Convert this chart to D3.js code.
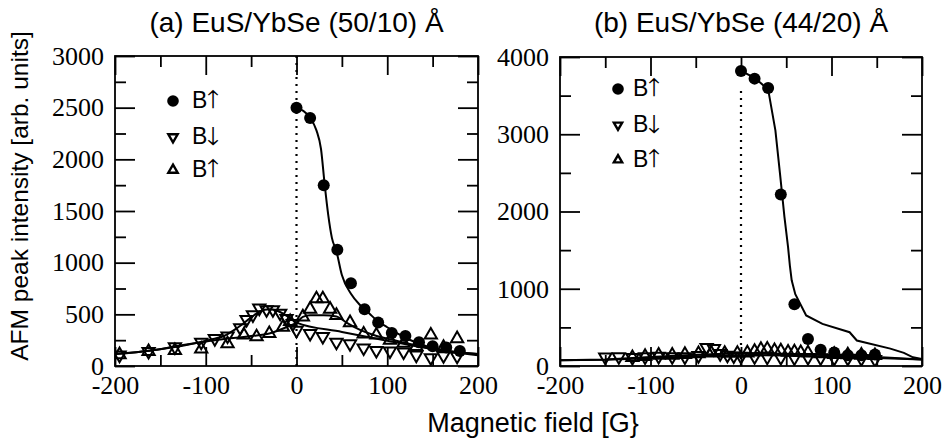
<!DOCTYPE html>
<html>
<head>
<meta charset="utf-8">
<script src="https://cdn.jsdelivr.net/npm/d3@7"></script>
<style>
  body { margin: 0; background: #fff; }
  svg { display: block; }
</style>
</head>
<body>
<svg id="chart" width="949" height="441"></svg>
<script>
// ---- panel (a) EuS/YbSe (50/10) ----
const aRiseX = [0, 15, 30, 45, 60, 75, 90, 105, 120, 135, 150, 165, 180];
const aRiseY = [2500, 2400, 1750, 1125, 800, 550, 420, 320, 290, 230, 190, 180, 145];
const aRiseFitX = [0, 15, 22, 27, 31, 35, 39, 44, 50, 60, 70, 80, 90, 100, 110, 120, 135, 150, 170, 200];
const aRiseFitY = [2500, 2400, 2280, 2100, 1760, 1460, 1240, 1110, 880, 700, 590, 510, 430, 375, 320, 275, 215, 175, 140, 105];

const aDownX = [-195, -163, -134, -105, -90, -76, -62, -55, -48, -41, -33, -26, -18, -11, -4, 0, 15, 29, 44, 59, 74, 88, 103, 118, 132, 148, 162, 177];
const aDownY = [105, 140, 185, 230, 265, 290, 370, 450, 495, 560, 545, 545, 510, 460, 410, 345, 315, 285, 230, 215, 175, 150, 145, 135, 105, 80, 100, 95];
const aDownFitX = [-200, -160, -120, -95, -80, -65, -50, -40, -30, -20, -10, 0, 50, 100, 150, 200];
const aDownFitY = [115, 150, 205, 255, 290, 370, 470, 530, 550, 530, 480, 420, 330, 245, 165, 115];

const aUpX = [-195, -163, -134, -105, -76, -58, -44, -30, -15, -7, 7, 15, 22, 29, 37, 44, 59, 74, 88, 103, 118, 132, 148, 162, 177];
const aUpY = [110, 140, 150, 165, 215, 300, 283, 315, 375, 430, 475, 550, 650, 650, 550, 490, 420, 310, 300, 250, 220, 190, 300, 180, 265];
const aUpFitX = [-200, -160, -130, -90, -50, -30, -10, 0, 7, 15, 30, 44, 55, 70, 85, 110, 132, 160, 200];
const aUpFitY = [115, 150, 195, 250, 290, 315, 380, 420, 475, 490, 490, 480, 420, 350, 300, 245, 200, 150, 115];

// ---- panel (b) EuS/YbSe (44/20) ----
const bRiseX = [0, 15, 30, 44, 59, 74, 88, 103, 118, 133, 148];
const bRiseY = [3820, 3720, 3600, 2220, 800, 350, 210, 175, 140, 140, 150];
const bRiseFitX = [0, 15, 30, 38, 43, 48, 52, 54, 56, 60, 72, 90, 120, 128, 165, 180, 190, 200];
const bRiseFitY = [3820, 3730, 3580, 3050, 2500, 1930, 1540, 1300, 1110, 930, 655, 545, 437, 330, 225, 170, 112, 90];

const bDownX = [-150, -135, -120, -106, -91, -76, -62, -47, -38, -30, -23, -15, -8, 0, 15, 29, 44, 59, 74, 88, 103, 118, 133, 148];
const bDownY = [115, 120, 110, 118, 125, 120, 118, 135, 240, 225, 160, 140, 130, 125, 120, 115, 110, 105, 110, 105, 100, 100, 95, 85];
const bDownFitX = [-200, -150, -100, -50, 0, 50, 100, 150, 200];
const bDownFitY = [75, 80, 100, 125, 140, 135, 120, 105, 85];

const bUpX = [-120, -106, -91, -76, -62, -47, -33, -18, -4, 7, 15, 22, 29, 37, 44, 52, 59, 66, 74, 88, 103, 118, 133, 148];
const bUpY = [110, 125, 140, 140, 150, 160, 170, 165, 165, 170, 190, 215, 220, 200, 195, 180, 185, 175, 170, 160, 150, 145, 140, 135];
const bUpFitX = [-200, -150, -100, -50, 0, 50, 100, 150, 200];
const bUpFitY = [75, 85, 115, 145, 165, 160, 140, 115, 85];

// axis ticks
const fieldTicks = [-200, -100, 0, 100, 200];
const fieldMinor = [-150, -50, 50, 150];
const aYTicks = [0, 500, 1000, 1500, 2000, 2500, 3000];
const aYMinor = [250, 750, 1250, 1750, 2250, 2750];
const bYTicks = [0, 1000, 2000, 3000, 4000];
const bYMinor = [500, 1500, 2500, 3500];

const legendArrows = ['\u2191', '\u2193', '\u2191'];

const zip = (xs, ys) => xs.map((x, i) => [x, ys[i]]);

const svg = d3.select('#chart');
const sansFont = 'Liberation Sans';
const serifFont = 'Liberation Serif';
const tickFmt = d => String(d); // plain hyphen for negatives, like the original

function drawPanel(p) {
  const x = d3.scaleLinear().domain([-200, 200]).range([p.left, p.right]);
  const y = d3.scaleLinear().domain([0, p.yMax]).range([p.bottom, p.top]);
  const g = svg.append('g');

  // ticks, all four sides, pointing inward
  const tickSets = [
    [d3.axisBottom(x).tickValues(fieldTicks), p.bottom, 'h', 19],
    [d3.axisBottom(x).tickValues(fieldMinor), p.bottom, 'h', 11],
    [d3.axisTop(x).tickValues(fieldTicks), p.top, 'h', 19],
    [d3.axisTop(x).tickValues(fieldMinor), p.top, 'h', 11],
    [d3.axisLeft(y).tickValues(p.yTicks), p.left, 'v', 20],
    [d3.axisLeft(y).tickValues(p.yMinor), p.left, 'v', 11],
    [d3.axisRight(y).tickValues(p.yTicks), p.right, 'v', 20],
    [d3.axisRight(y).tickValues(p.yMinor), p.right, 'v', 11]
  ];
  tickSets.forEach(([ax, pos, dir, len]) => {
    const a = g.append('g')
      .attr('transform', dir === 'h' ? `translate(0,${pos})` : `translate(${pos},0)`)
      .call(ax.tickSize(-len).tickFormat(() => ''));
    a.select('.domain').remove();
    a.selectAll('text').remove();
    a.selectAll('line').attr('stroke', '#000').attr('stroke-width', 1.8);
  });

  // tick labels
  const bx = g.append('g').attr('transform', `translate(0,${p.bottom})`)
    .call(d3.axisBottom(x).tickValues(fieldTicks).tickSize(0).tickPadding(10).tickFormat(tickFmt))
    .attr('font-family', serifFont).attr('font-size', 26);
  bx.select('.domain').remove();
  bx.selectAll('text').attr('fill', '#000');

  const ly = g.append('g').attr('transform', `translate(${p.left},0)`)
    .call(d3.axisLeft(y).tickValues(p.yTicks).tickSize(0).tickPadding(11).tickFormat(tickFmt))
    .attr('font-family', serifFont).attr('font-size', 26);
  ly.select('.domain').remove();
  ly.selectAll('text').attr('fill', '#000');

  // clip for curves
  const clipId = 'clip' + p.id;
  svg.append('clipPath').attr('id', clipId).append('rect')
    .attr('x', p.left).attr('y', p.top).attr('width', p.right - p.left).attr('height', p.bottom - p.top);
  const plot = g.append('g').attr('clip-path', `url(#${clipId})`);

  // dotted zero-field line
  plot.append('line')
    .attr('x1', x(0)).attr('x2', x(0))
    .attr('y1', y(0)).attr('y2', y(p.zeroLineTop))
    .attr('stroke', '#000').attr('stroke-width', 2.2)
    .attr('stroke-dasharray', '2,5');

  const line = d3.line().x(d => x(d[0])).y(d => y(d[1])).curve(p.curve);
  p.fits.forEach(f => {
    plot.append('path').datum(f)
      .attr('d', line)
      .attr('fill', 'none').attr('stroke', '#000').attr('stroke-width', 2);
  });

  const tri = d3.symbol().type(d3.symbolTriangle).size(p.triSize);
  plot.append('g').selectAll('path').data(p.down).join('path')
    .attr('d', tri)
    .attr('transform', d => `translate(${x(d[0])},${y(d[1])}) rotate(180)`)
    .attr('fill', 'none').attr('stroke', '#000').attr('stroke-width', 2);
  plot.append('g').selectAll('path').data(p.up).join('path')
    .attr('d', tri)
    .attr('transform', d => `translate(${x(d[0])},${y(d[1])})`)
    .attr('fill', 'none').attr('stroke', '#000').attr('stroke-width', 2);
  plot.append('g').selectAll('circle').data(p.rise).join('circle')
    .attr('cx', d => x(d[0])).attr('cy', d => y(d[1])).attr('r', 6)
    .attr('fill', '#000');

  // frame
  g.append('rect')
    .attr('x', p.left).attr('y', p.top)
    .attr('width', p.right - p.left).attr('height', p.bottom - p.top)
    .attr('fill', 'none').attr('stroke', '#000').attr('stroke-width', 1.8);

  // legend
  const lg = g.append('g');
  p.legendRows.forEach((ry, i) => {
    if (i === 0) {
      lg.append('circle').attr('cx', p.legendX).attr('cy', ry).attr('r', 5.8).attr('fill', '#000');
    } else {
      lg.append('path')
        .attr('d', d3.symbol().type(d3.symbolTriangle).size(p.legendTri)())
        .attr('transform', `translate(${p.legendX},${ry})${i === 1 ? ' rotate(180)' : ''}`)
        .attr('fill', 'none').attr('stroke', '#000').attr('stroke-width', 2.4);
    }
    const t = lg.append('text')
      .attr('x', p.legendTextX).attr('y', ry + 7)
      .attr('font-family', sansFont).attr('font-size', 23);
    t.append('tspan').text('B');
    t.append('tspan').attr('font-family', 'FreeSerif').attr('font-size', 25)
      .text(legendArrows[i]);
  });

  // title
  g.append('text')
    .attr('x', (p.left + p.right) / 2).attr('y', 32)
    .attr('text-anchor', 'middle')
    .attr('font-family', sansFont).attr('font-size', 28)
    .text(p.title);
}

drawPanel({
  id: 'a', title: '(a) EuS/YbSe (50/10) \u00C5',
  left: 115, right: 478, top: 56, bottom: 366, yMax: 3000,
  yTicks: aYTicks, yMinor: aYMinor, zeroLineTop: 3000,
  curve: d3.curveMonotoneX, triSize: 65, legendTri: 38,
  rise: zip(aRiseX, aRiseY),
  down: zip(aDownX, aDownY),
  up: zip(aUpX, aUpY),
  fits: [zip(aRiseFitX, aRiseFitY), zip(aDownFitX, aDownFitY), zip(aUpFitX, aUpFitY)],
  legendX: 173, legendTextX: 192, legendRows: [101, 137, 170]
});

drawPanel({
  id: 'b', title: '(b) EuS/YbSe (44/20) \u00C5',
  left: 560, right: 922, top: 57, bottom: 366, yMax: 4000,
  yTicks: bYTicks, yMinor: bYMinor, zeroLineTop: 3600,
  curve: d3.curveLinear, triSize: 65, legendTri: 30,
  rise: zip(bRiseX, bRiseY),
  down: zip(bDownX, bDownY),
  up: zip(bUpX, bUpY),
  fits: [zip(bRiseFitX, bRiseFitY), zip(bDownFitX, bDownFitY), zip(bUpFitX, bUpFitY)],
  legendX: 618, legendTextX: 633, legendRows: [89, 125, 160]
});

// shared axis titles
svg.append('text')
  .attr('transform', 'translate(28,196) rotate(-90)')
  .attr('text-anchor', 'middle')
  .attr('font-family', sansFont).attr('font-size', 24.5)
  .text('AFM peak intensity [arb. units]');

svg.append('text')
  .attr('x', 533).attr('y', 432)
  .attr('text-anchor', 'middle')
  .attr('font-family', sansFont).attr('font-size', 27)
  .text('Magnetic field [G}');
</script>
</body>
</html>
